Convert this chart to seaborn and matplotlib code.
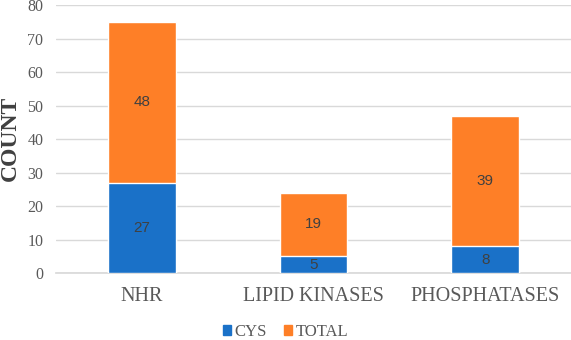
import matplotlib
matplotlib.use("Agg")
import matplotlib.pyplot as plt
import seaborn as sns
import pandas as pd
from matplotlib.patches import Patch

categories = ["NHR", "LIPID KINASES", "PHOSPHATASES"]
cys = [27, 5, 8]
total = [48, 19, 39]

sns.set_theme(style="white")
plt.rcParams['font.family'] = ['Liberation Serif', 'DejaVu Serif']

blue = "#1A71C8"
orange = "#FE7F27"

df = pd.DataFrame({"cat": categories, "cys": cys, "total": total})
df["stack"] = df["cys"] + df["total"]

fig = plt.figure(figsize=(5.71, 3.40), dpi=100)
ax = fig.add_axes([0.098, 0.197, 0.902, 0.788])

sns.barplot(data=df, x="cat", y="stack", color=orange, width=0.395,
            saturation=1, ax=ax, zorder=3)
sns.barplot(data=df, x="cat", y="cys", color=blue, width=0.395,
            saturation=1, ax=ax, zorder=4)

for i, (c, t) in enumerate(zip(cys, total)):
    ax.text(i, c / 2, str(c), ha="center", va="center", fontsize=11,
            color="#404040", family=["Liberation Sans", "DejaVu Sans"], zorder=5)
    ax.text(i, c + t / 2, str(t), ha="center", va="center", fontsize=11,
            color="#404040", family=["Liberation Sans", "DejaVu Sans"], zorder=5)

ax.set_xlim(-0.5, 2.5)
ax.set_ylim(0, 80)
ax.set_yticks(range(0, 81, 10))
ax.yaxis.grid(True, color="#D9D9D9", linewidth=1, zorder=0)
ax.set_axisbelow(True)
for s in ["top", "right", "left"]:
    ax.spines[s].set_visible(False)
ax.spines["bottom"].set_color("#D9D9D9")
ax.tick_params(axis="y", length=0, labelsize=11.5, labelcolor="#595959", pad=9)
ax.tick_params(axis="x", length=0, labelsize=14.5, labelcolor="#595959", pad=10)
ax.set_xlabel("")
ax.set_ylabel("")
fig.text(10 / 571, 1 - 138 / 340, "COUNT", rotation=90, ha="center", va="center",
         fontsize=17, fontweight="bold", color="#404040")

handles = [Patch(color=blue, label="CYS"), Patch(color=orange, label="TOTAL")]
fig.legend(handles=handles, loc="center", bbox_to_anchor=(0.5, 1 - 332 / 340), ncol=2,
           frameon=False, fontsize=12, handlelength=0.5, handleheight=0.5,
           handletextpad=0.2, columnspacing=1.0, labelcolor="#595959",
           borderpad=0)

fig.savefig("out.png", dpi=100)
